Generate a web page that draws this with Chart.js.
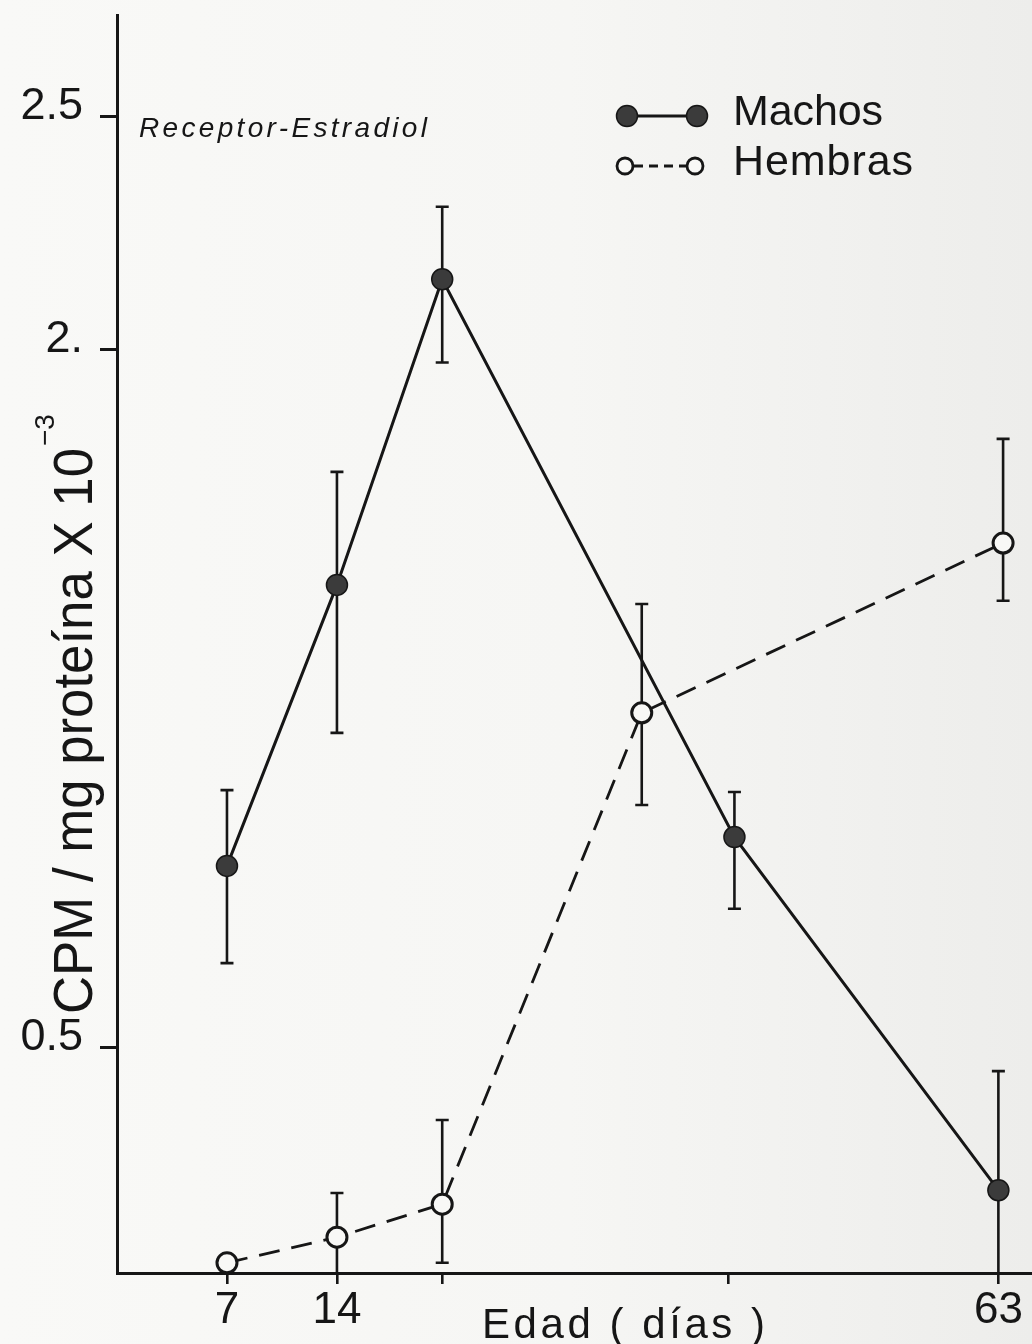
<!DOCTYPE html>
<html>
<head>
<meta charset="utf-8">
<script src="https://cdn.jsdelivr.net/npm/chart.js@4.4.1/dist/chart.umd.min.js"></script>
<style>
  html, body { margin: 0; padding: 0; }
  body { width: 1032px; height: 1344px; overflow: hidden;
         background: linear-gradient(90deg, #f9f9f7 0%, #f6f6f4 55%, #ededeb 100%); }
  #wrap { position: relative; width: 1032px; height: 1344px; }
</style>
</head>
<body>
<div id="wrap"><canvas id="c"></canvas></div>
<script>
// ---- data ----
const xTickValues = [7, 14, 20.7, 38.9, 56.1];
const xTickLabels = ['7', '14', '', '', '63'];
const yTickValues = [0.5, 2.0, 2.5];
const yTickLabels = ['0.5', '2.', '2.5'];

const seriesNames = ['Machos', 'Hembras'];

const maleAge  = [7, 14, 20.7, 39.3, 56.1];
const maleMean = [0.890, 1.494, 2.151, 0.952, 0.193];
const maleHigh = [1.053, 1.737, 2.307, 1.049, 0.449];
const maleLow  = [0.681, 1.176, 1.972, 0.798, 0.0];

const femaleAge  = [7, 14, 20.7, 33.4, 56.4];
const femaleMean = [0.037, 0.092, 0.163, 1.219, 1.584];
const femaleHigh = [0.037, 0.187, 0.344, 1.453, 1.808];
const femaleLow  = [0.037, 0.0, 0.037, 1.021, 1.460];

const chartTitle = 'Receptor-Estradiol';
const xTitle = 'Edad ( días )';
const yTitle = 'CPM / mg proteína X 10';
const yTitleExp = '−3';

// ---- styling ----
const INK = '#161616';
const FONT = '"Liberation Sans", Arial, sans-serif';

const errorBars = {
  id: 'errorBars',
  beforeDatasetsDraw(chart) {
    const { ctx, chartArea, scales: { x, y } } = chart;
    const sets = [[maleAge, maleHigh, maleLow], [femaleAge, femaleHigh, femaleLow]];
    ctx.save();
    ctx.beginPath();
    ctx.rect(chartArea.left, chartArea.top - 20, chartArea.right - chartArea.left, chartArea.bottom - chartArea.top + 20);
    ctx.clip();
    ctx.strokeStyle = INK;
    ctx.lineWidth = 2.6;
    sets.forEach(([ax, hi, lo]) => {
      ax.forEach((a, i) => {
        if (hi[i] === lo[i]) return;
        const px = x.getPixelForValue(a);
        const top = y.getPixelForValue(hi[i]);
        const bot = y.getPixelForValue(lo[i]);
        ctx.beginPath();
        ctx.moveTo(px, top); ctx.lineTo(px, bot);
        ctx.moveTo(px - 6.5, top); ctx.lineTo(px + 6.5, top);
        ctx.moveTo(px - 6.5, bot); ctx.lineTo(px + 6.5, bot);
        ctx.stroke();
      });
    });
    ctx.restore();
  }
};

function spacedText(ctx, text, x, y, target) {
  ctx.letterSpacing = '0px';
  const w0 = ctx.measureText(text).width;
  const sp = (target - w0) / Math.max(1, text.length - 1);
  ctx.letterSpacing = sp.toFixed(2) + 'px';
  ctx.fillText(text, x, y);
  ctx.letterSpacing = '0px';
}

const annotations = {
  id: 'annotations',
  afterDraw(chart) {
    const ctx = chart.ctx;
    ctx.save();
    ctx.fillStyle = INK;
    ctx.textAlign = 'left';
    ctx.textBaseline = 'alphabetic';

    // inner title
    ctx.font = 'italic 28px ' + FONT;
    spacedText(ctx, chartTitle, 139, 137, 288);

    // x title
    ctx.font = '42px ' + FONT;
    spacedText(ctx, xTitle, 482, 1338, 283);

    // y title (rotated)
    ctx.save();
    ctx.font = '55px ' + FONT;
    ctx.translate(92, 1014);
    ctx.rotate(-Math.PI / 2);
    const w0 = ctx.measureText(yTitle).width;
    ctx.scale((1014 - 448) / w0, 1);
    ctx.fillText(yTitle, 0, 0);
    ctx.restore();
    ctx.save();
    ctx.font = '28px ' + FONT;
    ctx.translate(54, 446);
    ctx.rotate(-Math.PI / 2);
    ctx.fillText(yTitleExp, 0, 0);
    ctx.restore();

    // legend
    const d0 = chart.data.datasets[0], d1 = chart.data.datasets[1];
    ctx.strokeStyle = INK;
    ctx.lineWidth = 3;
    ctx.setLineDash([]);
    ctx.beginPath(); ctx.moveTo(627, 116); ctx.lineTo(697, 116); ctx.stroke();
    [627, 697].forEach(cx => {
      ctx.beginPath(); ctx.arc(cx, 116, 10.5, 0, Math.PI * 2);
      ctx.fillStyle = d0.pointBackgroundColor; ctx.fill();
      ctx.lineWidth = 1.5; ctx.strokeStyle = INK; ctx.stroke();
    });
    ctx.lineWidth = 2.8;
    ctx.setLineDash([9, 6]);
    ctx.beginPath(); ctx.moveTo(634, 166); ctx.lineTo(688, 166); ctx.stroke();
    ctx.setLineDash([]);
    [625, 695].forEach(cx => {
      ctx.beginPath(); ctx.arc(cx, 166, 8, 0, Math.PI * 2);
      ctx.fillStyle = d1.pointBackgroundColor; ctx.fill();
      ctx.lineWidth = 2.8; ctx.strokeStyle = INK; ctx.stroke();
    });
    ctx.fillStyle = INK;
    ctx.font = '43px ' + FONT;
    spacedText(ctx, seriesNames[0], 733, 125, 150);
    spacedText(ctx, seriesNames[1], 733, 175, 180);
    ctx.restore();
  }
};

new Chart(document.getElementById('c'), {
  type: 'line',
  data: {
    datasets: [
      {
        label: seriesNames[0],
        data: maleAge.map((a, i) => ({ x: a, y: maleMean[i] })),
        borderColor: INK, borderWidth: 3, tension: 0, fill: false, clip: false,
        pointRadius: 10.5, pointBackgroundColor: '#3b3b3b', pointBorderColor: INK, pointBorderWidth: 1.5
      },
      {
        label: seriesNames[1],
        data: femaleAge.map((a, i) => ({ x: a, y: femaleMean[i] })),
        borderColor: INK, borderWidth: 2.8, borderDash: [21, 12], tension: 0, fill: false, clip: false,
        pointRadius: 10, pointBackgroundColor: '#f8f8f6', pointBorderColor: INK, pointBorderWidth: 3
      }
    ]
  },
  options: {
    responsive: true,
    maintainAspectRatio: false,
    animation: false,
    events: [],
    layout: { autoPadding: false, padding: { top: 15, left: 0, right: 0, bottom: 0 } },
    plugins: { legend: { display: false }, tooltip: { enabled: false }, title: { display: false } },
    scales: {
      x: {
        type: 'linear', min: 0, max: 58.24,
        afterBuildTicks: s => { s.ticks = xTickValues.map(v => ({ value: v })); },
        afterFit: s => { s.height = 71; s.paddingLeft = 0; s.paddingRight = 0; },
        ticks: {
          callback: (v, i) => xTickLabels[i],
          font: { family: FONT, size: 44 }, color: INK, padding: 0,
          maxRotation: 0, autoSkip: false
        },
        grid: { drawOnChartArea: false, drawTicks: true, tickLength: 11, color: INK, lineWidth: 2.6 },
        border: { display: true, color: INK, width: 3 }
      },
      y: {
        type: 'linear', min: 0.015, max: 2.719,
        afterBuildTicks: s => { s.ticks = yTickValues.map(v => ({ value: v })); },
        afterFit: s => { s.width = 117; s.paddingTop = 0; s.paddingBottom = 0; },
        ticks: {
          callback: (v, i) => yTickLabels[i],
          font: { family: FONT, size: 45 }, color: INK, padding: 17, labelOffset: -10
        },
        grid: { drawOnChartArea: false, drawTicks: true, tickLength: 17, color: INK, lineWidth: 3 },
        border: { display: true, color: INK, width: 3 }
      }
    }
  },
  plugins: [errorBars, annotations]
});
</script>
</body>
</html>
